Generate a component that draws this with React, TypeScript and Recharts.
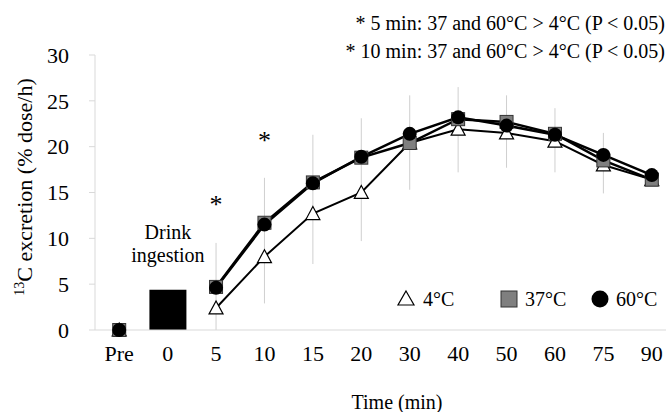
import { ComposedChart, Line, Bar, XAxis, YAxis, ErrorBar, ReferenceDot, LabelList } from "recharts";

const times = ["Pre", "0", "5", "10", "15", "20", "30", "40", "50", "60", "75", "90"];
const temp4 = [0, null, 2.4, 8.0, 12.7, 15.0, 20.4, 21.9, 21.5, 20.6, 18.0, 16.4];
const temp37 = [0, null, 4.7, 11.7, 16.1, 18.8, 20.4, 23.0, 22.7, 21.4, 18.5, 16.4];
const temp60 = [0, null, 4.6, 11.5, 16.0, 18.9, 21.4, 23.2, 22.3, 21.3, 19.1, 16.9];
// visible range of the (overlapping) SD bars
const errLow = [null, null, 0, 2.9, 7.2, 9.7, 15.3, 17.2, 17.7, 17.2, 14.9, null];
const errHigh = [null, null, 9.5, 16.6, 21.3, 23.1, 25.6, 26.5, 25.6, 24.2, 21.5, null];
const drink = [null, 4.4, null, null, null, null, null, null, null, null, null, null];
const yTicks = [0, 5, 10, 15, 20, 25, 30];
const sigMarks = [
  { time: "5", y: 14 },
  { time: "10", y: 20.9 },
];
const notes = ["* 5 min: 37 and 60\u00B0C > 4\u00B0C (P < 0.05)", "* 10 min: 37 and 60\u00B0C > 4\u00B0C (P < 0.05)"];

const data = times.map((t, i) => ({
  time: t,
  t4: temp4[i],
  t37: temp37[i],
  t60: temp60[i],
  lo: errLow[i],
  hi: errHigh[i],
  drink: drink[i],
}));

const font = '"Liberation Serif", "Times New Roman", serif';
const grey = "#d9d9d9";

const TriDot = (p: any) => {
  const { cx, cy, value } = p;
  if (cx == null || cy == null || value == null) return <g key={p.key} />;
  const s = 7;
  return (
    <path
      key={p.key}
      d={`M${cx},${cy - s} L${cx + s},${cy + s * 0.85} L${cx - s},${cy + s * 0.85} Z`}
      fill="#fff"
      stroke="#000"
      strokeWidth={1.2}
    />
  );
};

const SquareDot = (p: any) => {
  const { cx, cy, value } = p;
  if (cx == null || cy == null || value == null) return <g key={p.key} />;
  return <rect key={p.key} x={cx - 6.5} y={cy - 6.5} width={13} height={13} fill="#7f7f7f" stroke="#333" strokeWidth={1} />;
};

const CircleDot = (p: any) => {
  const { cx, cy, value } = p;
  if (cx == null || cy == null || value == null) return <g key={p.key} />;
  return <circle key={p.key} cx={cx} cy={cy} r={7} fill="#000" />;
};

const errKey = (d: any) => (d.lo == null || d.t4 == null ? null : [d.t4 - d.lo, d.hi - d.t4]);

const DrinkLabel = (p: any) => {
  const { x, y, width, value } = p;
  if (value == null) return null;
  const cx = x + width / 2;
  return (
    <text x={cx} y={y - 51} textAnchor="middle" fontFamily={font} fontSize={20} fill="#000">
      <tspan x={cx}>Drink</tspan>
      <tspan x={cx} dy={23}>ingestion</tspan>
    </text>
  );
};

export default function App() {
  return (
    <div style={{ position: "absolute", left: 0, top: 0, width: 666, height: 412, overflow: "hidden", background: "#fff" }}>
      <ComposedChart width={700} height={412} data={data} margin={{ top: 55, right: 24, left: 0, bottom: 0 }}>
        <XAxis
          dataKey="time"
          interval={0}
          height={82}
          tickLine={false}
          tickSize={0}
          tickMargin={15}
          axisLine={{ stroke: grey }}
          tick={{ fontSize: 22, fill: "#000", fontFamily: font }}
        />
        <YAxis
          domain={[0, 30]}
          ticks={yTicks}
          interval={0}
          width={95}
          tickSize={6}
          tickMargin={20}
          axisLine={{ stroke: grey }}
          tickLine={{ stroke: grey }}
          tick={{ fontSize: 22, fill: "#000", fontFamily: font }}
        />
        <Bar dataKey="drink" barSize={37} fill="#000" isAnimationActive={false}>
          <LabelList dataKey="drink" content={DrinkLabel} />
        </Bar>
        <Line dataKey="t4" stroke="#000" strokeWidth={2} dot={TriDot} activeDot={false} isAnimationActive={false}>
          <ErrorBar dataKey={errKey} width={0} stroke="#cfcfcf" strokeWidth={1} direction="y" />
        </Line>
        <Line dataKey="t37" stroke="#000" strokeWidth={2.5} dot={SquareDot} activeDot={false} isAnimationActive={false} />
        <Line dataKey="t60" stroke="#000" strokeWidth={2.5} dot={CircleDot} activeDot={false} isAnimationActive={false} />
        {sigMarks.map((m) => (
          <ReferenceDot
            key={m.time}
            x={m.time}
            y={m.y}
            r={0}
            shape={(p: any) => (
              <text x={p.cx} y={p.cy + 11} textAnchor="middle" fontFamily={font} fontSize={26} fill="#000">
                *
              </text>
            )}
          />
        ))}
      </ComposedChart>
      <svg width={666} height={412} style={{ position: "absolute", left: 0, top: 0, pointerEvents: "none" }}>
        <g fontFamily={font} fill="#000">
          <text x={665} y={30} textAnchor="end" fontSize={20}>{notes[0]}</text>
          <text x={665} y={58} textAnchor="end" fontSize={20}>{notes[1]}</text>
          <text transform="translate(32,187) rotate(-90)" textAnchor="middle" fontSize={22}>
            <tspan fontSize={14} dy={-8}>13</tspan>
            <tspan dy={8}>C excretion (% dose/h)</tspan>
          </text>
          <text x={397} y={409} textAnchor="middle" fontSize={20}>Time (min)</text>
          <path d="M406,291 L414,305 L398,305 Z" fill="#fff" stroke="#000" strokeWidth={1.2} />
          <text x={423} y={306} fontSize={20}>4°C</text>
          <rect x={501} y={291} width={16} height={16} fill="#7f7f7f" stroke="#333" strokeWidth={1} />
          <text x={525} y={306} fontSize={20}>37°C</text>
          <circle cx={600} cy={299} r={8.5} fill="#000" />
          <text x={616} y={306} fontSize={20}>60°C</text>
        </g>
      </svg>
    </div>
  );
}
